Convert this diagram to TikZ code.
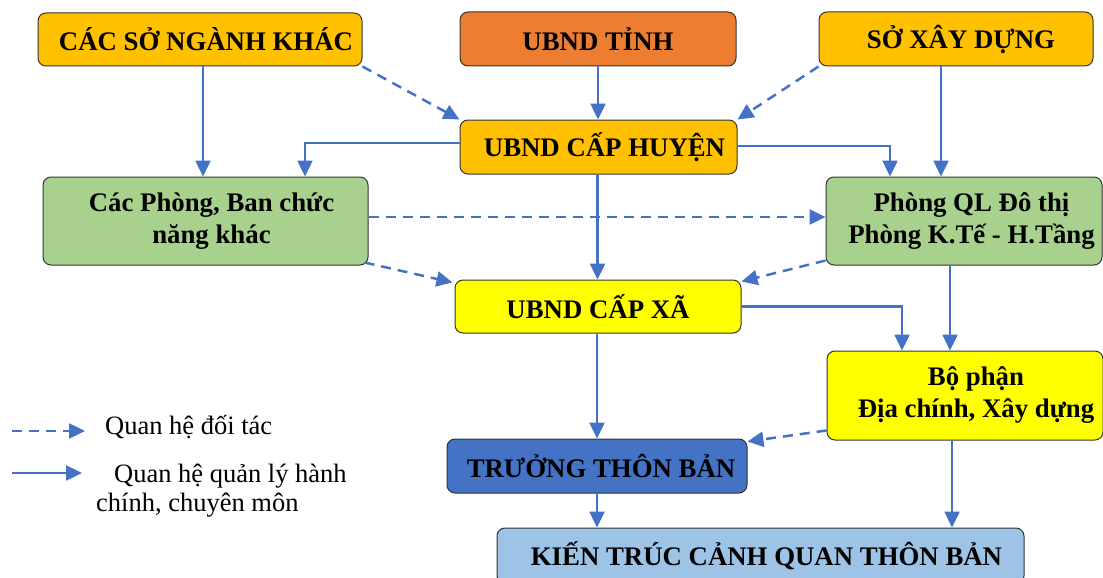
\documentclass[tikz,border=0pt]{standalone}
\usepackage{fontspec}
\setmainfont{Liberation Serif}
\usetikzlibrary{arrows.meta,calc}
\definecolor{orangeA}{HTML}{FFC000}
\definecolor{orangeB}{HTML}{ED7D31}
\definecolor{greenA}{HTML}{A9D18E}
\definecolor{yellowA}{HTML}{FFFF00}
\definecolor{blueA}{HTML}{4472C4}
\definecolor{blueB}{HTML}{9DC3E6}
\definecolor{arrowc}{HTML}{4472C4}
\definecolor{edgec}{HTML}{333333}
\tikzset{
  box/.style={draw=edgec, line width=1pt, rounded corners=8pt, inner sep=0pt,
    align=center, font=\fontsize{26.8}{32}\selectfont\bfseries},
  solidarrow/.style={draw=arrowc, line width=2.5pt, -{Triangle[length=16pt,width=15pt]}},
  dasharrow/.style={solidarrow, dash pattern=on 10pt off 7pt},
  legtext/.style={inner sep=0pt, font=\fontsize{26.5}{29}\selectfont, anchor=base west, align=left},
}
\begin{document}
\begin{tikzpicture}[x=1pt,y=-1pt]
\useasboundingbox (0,0) rectangle (1103,578);
% boxes
\node[box, fill=orangeA, minimum width=324pt, minimum height=53pt] (songanh) at (200,39.5) {\hspace*{12pt}CÁC SỞ NGÀNH KHÁC};
\node[box, fill=orangeB, minimum width=276pt, minimum height=54pt] (tinh) at (598,39) {UBND TỈNH};
\node[box, fill=orangeA, minimum width=274pt, minimum height=54pt] (soxd) at (956,39) {\hspace*{10pt}SỞ XÂY DỰNG};
\node[box, fill=orangeA, minimum width=277pt, minimum height=54pt] (huyen) at (598.5,147) {\hspace*{12pt}UBND CẤP HUYỆN};
\node[box, fill=greenA, minimum width=325pt, minimum height=88pt] (phongban) at (205.5,221) {\hspace*{12pt}Các Phòng, Ban chức\\\hspace*{12pt}năng khác};
\node[box, fill=greenA, minimum width=276pt, minimum height=88pt] (phongql) at (964,221) {\hspace*{15pt}Phòng QL Đô thị\\\hspace*{15pt}Phòng K.Tế - H.Tầng};
\node[box, fill=yellowA, minimum width=286pt, minimum height=53pt] (xa) at (598,306.5) {UBND CẤP XÃ};
\node[box, fill=yellowA, minimum width=276pt, minimum height=89pt] (bophan) at (965,395.5) {\hspace*{22pt}Bộ phận\\\hspace*{22pt}Địa chính, Xây dựng};
\node[box, fill=blueA, minimum width=300pt, minimum height=54pt] (truong) at (597,466) {\hspace*{8pt}TRƯỞNG THÔN BẢN};
\node[box, fill=blueB, minimum width=527pt, minimum height=56pt] (kientruc) at (760.5,556) {\hspace*{12pt}KIẾN TRÚC CẢNH QUAN THÔN BẢN};
% connectors
\draw[solidarrow] ([xshift=3pt]songanh.south) -- ([xshift=3pt]songanh.south |- phongban.north);
\draw[dasharrow] (songanh.south east) -- (huyen.north west);
\draw[solidarrow] (tinh.south) -- (tinh.south |- huyen.north);
\draw[dasharrow] (soxd.south west) -- (huyen.north east);
\draw[solidarrow] ([xshift=-15pt]soxd.south) -- ([xshift=-15pt]soxd.south |- phongql.north);
\draw[solidarrow] ([yshift=4pt]huyen.west) -| ([xshift=99.5pt]phongban.north);
\draw[solidarrow] ([yshift=1pt]huyen.east) -| ([xshift=-74pt]phongql.north);
\draw[solidarrow] ([xshift=-1pt]huyen.south) -- ([xshift=-1pt]huyen.south |- xa.north);
\draw[dasharrow] ([yshift=4pt]phongban.east) -- ([yshift=4pt]phongql.west);
\draw[dasharrow] ([xshift=-4pt,yshift=3pt]phongban.south east) -- ([xshift=-2pt,yshift=-3pt]xa.north west);
\draw[dasharrow] ([yshift=5pt]phongql.south west) -- ([yshift=-2pt]xa.north east);
\draw[solidarrow] (xa.east) -| ([xshift=-63pt]bophan.north);
\draw[solidarrow] ([xshift=-14pt]phongql.south) -- ([xshift=-14pt]phongql.south |- bophan.north);
\draw[solidarrow] ([xshift=-1pt]xa.south) -- ([xshift=-1pt]xa.south |- truong.north);
\draw[dasharrow] ([yshift=10pt]bophan.south west) -- ([yshift=-3pt]truong.north east);
\draw[solidarrow] (truong.south) -- (truong.south |- kientruc.north);
\draw[solidarrow] ([xshift=-13pt]bophan.south) -- ([xshift=-13pt]bophan.south |- kientruc.north);
% legend
\coordinate (l1a) at (12,431);
\coordinate (l1b) at (85,431);
\coordinate (l2a) at (12,473);
\coordinate (l2b) at (82,473);
\draw[dasharrow] (l1a) -- (l1b);
\draw[solidarrow] (l2a) -- (l2b);
\node[legtext] (leg1) at (105,434) {Quan hệ đối tác};
\node[legtext] (leg2) at (96,511) {\hspace*{18pt}Quan hệ quản lý hành\\chính, chuyên môn};
\end{tikzpicture}
\end{document}
